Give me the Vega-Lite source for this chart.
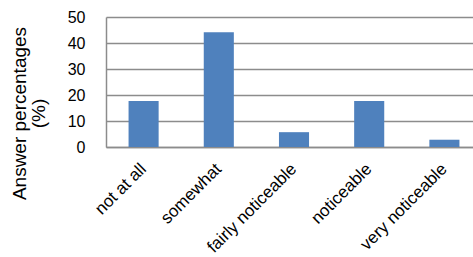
{
  "$schema": "https://vega.github.io/schema/vega-lite/v6.json",
  "autosize": {"type": "none"},
  "padding": {"left": 106, "top": 17, "right": 0, "bottom": 110},
  "width": 376,
  "height": 130,
  "background": "white",
  "data": {
    "values": [
      {"answer": "not at all", "pct": 17.7},
      {"answer": "somewhat", "pct": 44.1},
      {"answer": "fairly noticeable", "pct": 5.7},
      {"answer": "noticeable", "pct": 17.7},
      {"answer": "very noticeable", "pct": 2.8}
    ]
  },
  "config": {
    "view": {"stroke": null},
    "font": "Liberation Sans"
  },
  "mark": {"type": "bar", "color": "#4F81BD"},
  "encoding": {
    "x": {
      "field": "answer",
      "type": "nominal",
      "sort": null,
      "scale": {"paddingInner": 0.6, "paddingOuter": 0.3},
      "axis": {
        "title": null,
        "labelAngle": -45,
        "labelAlign": "right",
        "labelBaseline": "middle",
        "labelFont": "Liberation Sans",
        "labelFontSize": 17,
        "labelColor": "#000000",
        "labelPadding": 19,
        "ticks": false,
        "domainColor": "#8c8c8c",
        "domainWidth": 1.5
      }
    },
    "y": {
      "field": "pct",
      "type": "quantitative",
      "scale": {"domain": [0, 50]},
      "axis": {
        "title": ["Answer percentages", "(%)"],
        "titleFont": "Liberation Sans",
        "titleFontSize": 19,
        "titleFontWeight": "normal",
        "titleColor": "#000000",
        "titleLineHeight": 19,
        "titleBaseline": "middle",
        "titleX": -87,
        "titleY": 96,
        "values": [0, 10, 20, 30, 40, 50],
        "labelFont": "Liberation Sans",
        "labelFontSize": 16,
        "labelColor": "#000000",
        "labelPadding": 21,
        "ticks": false,
        "grid": true,
        "gridColor": "#8c8c8c",
        "gridWidth": 1.5,
        "domainColor": "#8c8c8c",
        "domainWidth": 1.5
      }
    }
  }
}
